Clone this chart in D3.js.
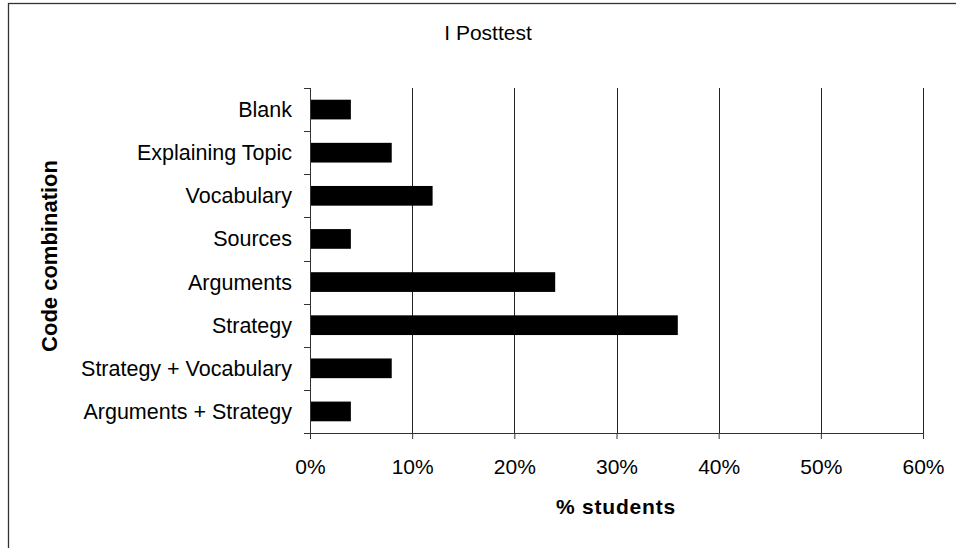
<!DOCTYPE html>
<html><head><meta charset="utf-8">
<script src="https://cdn.jsdelivr.net/npm/d3@7"></script>
<style>
html,body{margin:0;padding:0;background:#fff;}
svg{display:block;font-family:"Liberation Sans",Arial,sans-serif;}
</style></head>
<body>
<svg id="c" width="956" height="548"></svg>
<script>
const categories = ["Blank","Explaining Topic","Vocabulary","Sources","Arguments","Strategy","Strategy + Vocabulary","Arguments + Strategy"];
const values = [4, 8, 12, 4, 24, 36, 8, 4];
const xTicks = [0, 10, 20, 30, 40, 50, 60];
const title = "I Posttest";
const xTitle = "% students";
const yTitle = "Code combination";

const svg = d3.select("#c");
const pL = 310, pR = 923, pT = 88, pB = 433;

// outer border
svg.append("rect").attr("x",8.5).attr("y",3.5).attr("width",1000).attr("height",1000)
  .attr("fill","none").attr("stroke","#333").attr("stroke-width",1.3);

const x = d3.scaleLinear().domain([0,60]).range([pL,pR]);
const y = d3.scaleBand().domain(categories).range([pT,pB]).paddingInner(0.543).paddingOuter(0.2715);

// gridlines
svg.append("g").selectAll("line").data(xTicks.filter(t=>t>0)).join("line")
  .attr("x1",d=>Math.round(x(d))+0.5).attr("x2",d=>Math.round(x(d))+0.5)
  .attr("y1",pT).attr("y2",pB).attr("stroke","#222").attr("stroke-width",1);

// bars
svg.append("g").selectAll("rect").data(values).join("rect")
  .attr("x",x(0)).attr("y",(d,i)=>y(categories[i]))
  .attr("width",d=>x(d)-x(0)).attr("height",y.bandwidth()).attr("fill","#000");

// x axis
const xa = svg.append("g").attr("transform",`translate(0,${pB})`)
  .call(d3.axisBottom(x).tickValues(xTicks).tickFormat(d=>d+"%").tickSize(6).tickPadding(20));
xa.select(".domain").attr("stroke","#333");
xa.selectAll(".tick line").attr("stroke","#333");
xa.selectAll("text").attr("font-size",21).attr("fill","#000").attr("font-family","Liberation Sans, Arial, sans-serif");

// y axis with ticks at band boundaries
const yBoundaries = d3.range(categories.length+1).map(i=>pT + i*(pB-pT)/categories.length);
svg.append("line").attr("x1",pL+0.5).attr("x2",pL+0.5).attr("y1",pT).attr("y2",pB).attr("stroke","#333");
svg.append("g").selectAll("line").data(yBoundaries).join("line")
  .attr("x1",pL-6).attr("x2",pL).attr("y1",d=>Math.round(d)+0.5).attr("y2",d=>Math.round(d)+0.5).attr("stroke","#333");
svg.append("g").selectAll("text").data(categories).join("text")
  .attr("x",292).attr("y",d=>y(d)+y.bandwidth()/2).attr("dy","0.35em")
  .attr("text-anchor","end").attr("font-size",21.5).attr("fill","#000").text(d=>d);

// titles
svg.append("text").attr("x",488).attr("y",40).attr("text-anchor","middle").attr("font-size",21).attr("fill","#000").text(title);
svg.append("text").attr("x",616).attr("y",514).attr("text-anchor","middle").attr("font-size",21).attr("font-weight","bold").attr("letter-spacing","0.8px").attr("fill","#000").text(xTitle);
svg.append("text").attr("transform",`translate(57,256) rotate(-90)`).attr("text-anchor","middle").attr("font-size",22).attr("font-weight","bold").attr("fill","#000").text(yTitle);
</script>
</body></html>
